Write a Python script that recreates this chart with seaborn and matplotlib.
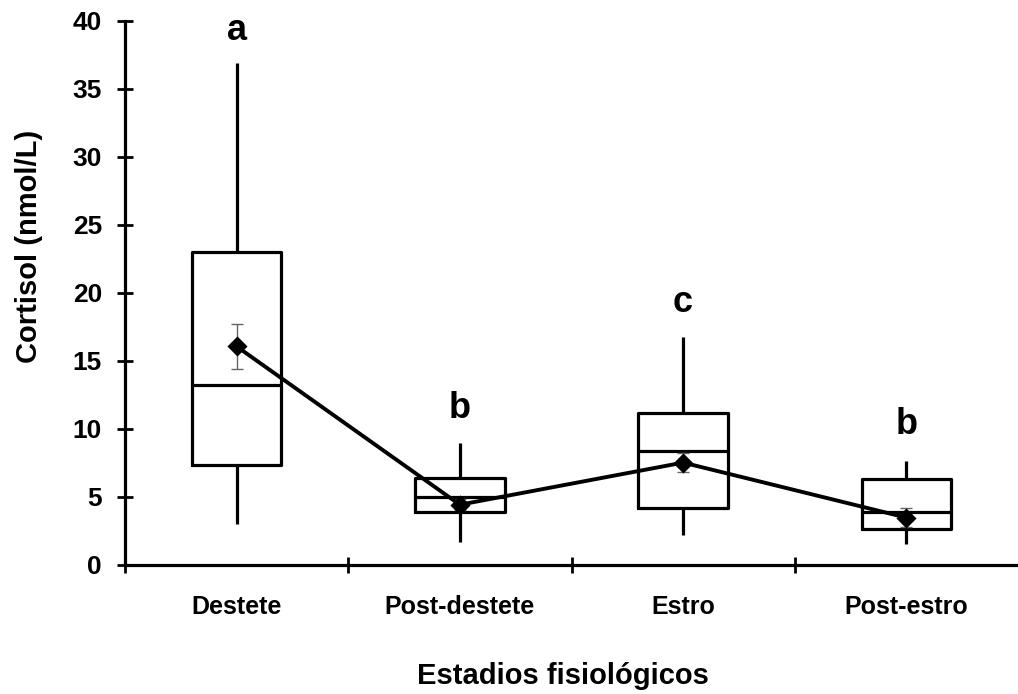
import numpy as np
import pandas as pd
import matplotlib
matplotlib.use("Agg")
import matplotlib.pyplot as plt
import seaborn as sns

# ---- data ----
categories = ["Destete", "Post-destete", "Estro", "Post-estro"]
whisker_low = [3.0, 1.65, 2.2, 1.5]
q1 = [7.35, 3.9, 4.15, 2.6]
median = [13.2, 4.95, 8.35, 3.9]
q3 = [23.0, 6.4, 11.15, 6.3]
whisker_high = [36.9, 8.95, 16.75, 7.6]
means = [16.05, 4.4, 7.5, 3.45]
mean_err = [1.65, 0.4, 0.7, 0.7]
letters = ["a", "b", "c", "b"]
letter_y = [38.6, 10.75, 18.57, 9.6]

sns.set_style("white")
plt.rcParams["font.family"] = ["Liberation Sans", "DejaVu Sans"]
plt.rcParams["font.weight"] = "bold"
plt.rcParams["text.color"] = "black"
plt.rcParams["axes.labelcolor"] = "black"
plt.rcParams["xtick.color"] = "black"
plt.rcParams["ytick.color"] = "black"

# five-number data per group -> with whis=(0,100) seaborn reproduces these stats
rows = []
for c, a, b, m, d, e in zip(categories, whisker_low, q1, median, q3, whisker_high):
    for v in (a, b, m, d, e):
        rows.append({"Estadio": c, "Cortisol": v})
df = pd.DataFrame(rows)
dfm = pd.DataFrame({"Estadio": categories, "Media": means})

fig = plt.figure(figsize=(10.18, 6.94), dpi=100)
ax = fig.add_axes([125 / 1018, 1 - 564.5 / 694, 1 - 125 / 1018, (564.5 - 21) / 694])

lw = 2.3
sns.boxplot(data=df, x="Estadio", y="Cortisol", order=categories, whis=(0, 100),
            width=0.40, fill=False, color="black", linecolor="black",
            linewidth=lw, showcaps=False, ax=ax,
            medianprops=dict(color="black", linewidth=lw),
            whiskerprops=dict(color="black", linewidth=lw),
            boxprops=dict(color="black", linewidth=lw))

xs = np.arange(len(categories))
ax.errorbar(xs, means, yerr=mean_err, fmt="none", ecolor="#666666",
            elinewidth=1.0, capsize=4, capthick=1.0, zorder=4)
sns.pointplot(data=dfm, x="Estadio", y="Media", order=categories, color="black",
              markers="D", markersize=8, linewidth=2.8, errorbar=None, ax=ax)
for coll in ax.collections:
    coll.set_zorder(5)
ax.lines[-1].set_zorder(5)

for x, t, y in zip(xs, letters, letter_y):
    ax.text(x, y, t, ha="center", va="baseline", fontsize=26, fontweight="bold",
            color="black")

ax.set_xlim(-0.5, 3.5)
ax.set_ylim(0, 40)
ax.set_yticks(np.arange(0, 41, 5))
ax.set_yticklabels([str(v) for v in range(0, 41, 5)], fontsize=19, fontweight="bold")
ax.set_xticks([-0.5, 0.5, 1.5, 2.5])
ax.set_xticklabels(["", "", "", ""])
ax.set_xticks(xs, minor=True)
ax.set_xticklabels(categories, minor=True, fontsize=18, fontweight="bold")
ax.tick_params(axis="x", which="minor", bottom=True, length=0, pad=22)
ax.tick_params(axis="x", which="major", bottom=True, direction="inout", length=12,
               width=2, color="black")
ax.tick_params(axis="y", left=True, direction="inout", length=11, width=2,
               color="black", pad=11)

for s in ["top", "right"]:
    ax.spines[s].set_visible(False)
for s in ["left", "bottom"]:
    ax.spines[s].set_linewidth(2.3)
    ax.spines[s].set_color("black")

ax.set_xlabel("Estadios fisiológicos", fontsize=21, fontweight="bold")
ax.xaxis.set_label_coords(0.49, -0.18)
ax.set_ylabel("Cortisol (nmol/L)", fontsize=21, fontweight="bold")
ax.yaxis.set_label_coords(-0.092, 0.586)

fig.savefig("out.png", dpi=100, facecolor="white")
